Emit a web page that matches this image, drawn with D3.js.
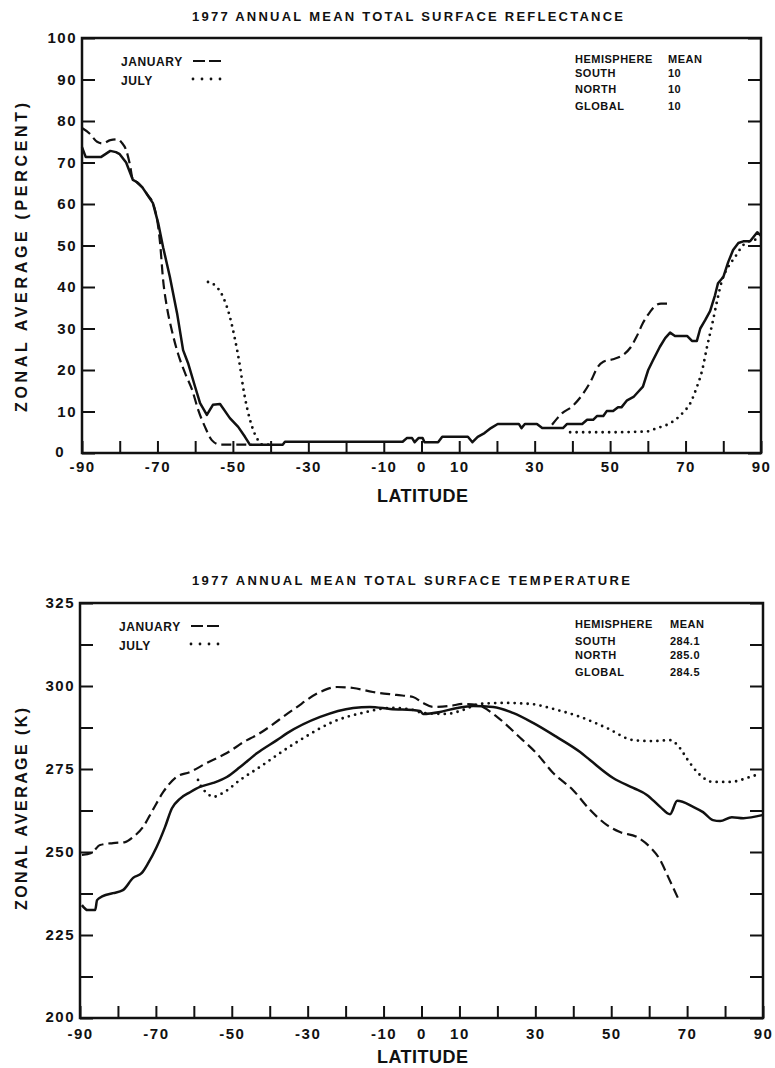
<!DOCTYPE html>
<meta charset="utf-8">
<script src="https://cdnjs.cloudflare.com/ajax/libs/d3/7.8.5/d3.min.js"></script>
<style>

body {
  margin: 0;
  background: #fff;
}

text {
  font-family: "Liberation Sans", Arial, sans-serif;
  font-weight: bold;
  fill: #111;
}

.frame {
  fill: none;
  stroke: #111;
  stroke-width: 2.5px;
}

.tick line {
  stroke: #111;
  stroke-width: 2px;
}

.annual {
  fill: none;
  stroke: #111;
  stroke-width: 2.5px;
  stroke-linejoin: round;
}

.jan {
  fill: none;
  stroke: #111;
  stroke-width: 2.2px;
  stroke-dasharray: 10,5;
}

.jul {
  fill: none;
  stroke: #111;
  stroke-width: 2.8px;
  stroke-dasharray: 0,6.5;
  stroke-linecap: round;
}

</style>
<body>
<script>

// ---- data (latitude, zonal average) ----

var latTicks = d3.range(-90, 91, 10),
    latLabels = [-90, -70, -50, -30, -10, 0, 10, 30, 50, 70, 90];

var reflTicks = d3.range(0, 101, 10),
    tempTicks = d3.range(200, 326, 12.5),
    tempLabels = [200, 225, 250, 275, 300, 325];

var hemispheres = ["SOUTH", "NORTH", "GLOBAL"],
    reflMeans = ["10", "10", "10"],
    tempMeans = ["284.1", "285.0", "284.5"];

// surface reflectance (percent)
var reflAnnual = [[-90,73.7],[-89,71.3],[-85,71.3],[-82.5,72.8],[-81,72.5],[-80,72],[-78.3,70],
  [-76.5,65.8],[-75.5,65.3],[-74,64],[-72.5,62],[-71.2,60.2],[-69.8,55.4],[-68.5,49.6],[-66.7,42.4],
  [-64.8,33.7],[-63.2,24.8],[-61.9,21.7],[-60,15.9],[-58.7,12],[-56.9,9.2],[-55.3,11.6],[-53.4,11.8],
  [-50.8,8.4],[-48.6,6.3],[-46.8,3.9],[-45.5,2],[-36.8,2],[-36.2,2.7],[-5,2.7],[-3.9,3.6],[-2.5,3.6],
  [-1.8,2.6],[-0.8,3.6],[0.3,3.6],[0.8,2.6],[4.4,2.6],[5.5,3.9],[12.3,3.9],[13.5,2.6],[14.9,3.9],
  [16.7,4.8],[18.4,6],[20.2,7],[25.8,7],[26.5,6],[27.4,7],[30.6,7],[32,6],[37.5,6],[38.6,7],[42.6,7],
  [43.9,8],[45.5,8],[46.5,8.9],[48.2,8.9],[49.1,10.1],[50.8,10.1],[52.1,11],[53,11],[54.5,12.7],
  [56.2,13.5],[57.4,14.7],[58.7,16],[60.1,20],[61.4,22.4],[63.2,25.6],[64.6,27.7],[65.9,29],
  [67.2,28.2],[70.4,28.2],[71.7,27],[73,27],[73.9,30],[75.2,32],[76.5,34.2],[77.8,38],[78.6,40.9],
  [80,42.4],[81.3,46],[82.6,48.9],[84,50.6],[85.3,51],[87.1,51],[89,53.2],[90,52.3]];

var reflJanSouth = [[-90,78.3],[-88,77],[-86,75],[-84.5,74.6],[-82.5,75.4],[-80.5,75.6],[-79.4,74.7],
  [-78.3,73],[-77.3,69.5],[-76.5,65.8],[-75.5,65.3],[-74,64],[-72.5,62],[-71.2,60.2],[-69.8,54.5],
  [-69.3,50.6],[-68.5,41.7],[-67.5,35.2],[-66.2,29.6],[-64.6,24.1],[-62.7,19.3],[-60.8,15.2],
  [-59.2,10.4],[-57.4,6.3],[-55.6,3.1],[-53.4,2],[-45,2]];

var reflJanNorth = [[34.6,6.8],[37.3,9.6],[39.9,11.2],[42.9,14.4],[45.1,17.7],[46.5,20.4],[48.2,22],
  [50.8,22.6],[53.4,23.6],[55.3,25.3],[57,28],[58.7,31.3],[60.6,34],[62.3,35.7],[63.5,36],[65.4,36]];

var reflJulSouth = [[-56.6,41.2],[-54.4,40.1],[-52.6,37.6],[-50.8,32.8],[-49.4,27.2],[-48.1,20.8],
  [-47.3,15.9],[-46.3,11.1],[-44.9,6.3],[-43.6,3.5],[-42,2],[-40,2]];

var reflJulNorth = [[39.4,5],[50,5],[59.8,5.2],[62.4,6],[65.1,6.8],[67.7,8.3],[69.4,9.8],[71.2,11.9],
  [73,15.9],[74.4,19.9],[75.7,25.6],[77.1,31.2],[78.4,36.8],[79.7,41.7],[81.3,44.8],[83.1,47.2],
  [85.3,50.1],[87.9,51.3],[89.7,51.5]];

// surface temperature (K)
var tempAnnual = [[-89.5,234],[-88,232.5],[-86,232.5],[-85.5,235.5],[-84,236.7],[-81.3,237.6],
  [-78.7,238.5],[-76,242.2],[-73.7,243.7],[-72,246.7],[-69.8,251.5],[-67.6,257.5],[-65.8,263.1],
  [-63.6,266.1],[-61,268],[-58.4,269.6],[-54.9,270.8],[-51.3,272.6],[-47.8,275.6],[-43.3,279.8],
  [-38.1,283.7],[-35.4,285.8],[-26.7,290.7],[-18,293.4],[-13.6,293.7],[-8.3,293.1],[-0.4,292.5],
  [0.4,291.6],[4.9,292.2],[9.4,293.4],[13.6,294],[18.9,293.7],[24.1,291.9],[29.4,288.9],[35.7,284.6],
  [41.8,280.1],[44.4,277.7],[50.5,272.3],[55.8,269.3],[59.4,267.2],[62.9,263.6],[65.5,261.4],
  [67.4,265.4],[71.6,263.6],[74.2,262],[76.8,259.6],[78.7,259.3],[81.8,260.5],[84.8,260.2],[89.8,261.1]];

var tempJan = [[-89.5,249.1],[-87,249.7],[-84.7,252.1],[-81.3,252.7],[-78.1,253],[-76,254.5],
  [-73.4,257.5],[-70.8,262.7],[-68.1,268],[-64.6,272.6],[-61,274.1],[-56.6,276.8],[-51.3,279.8],
  [-46,283.7],[-44.4,284.6],[-33.9,292.8],[-26.7,298.2],[-22.3,299.7],[-18,299.4],[-12.8,298.2],
  [-6.6,297.3],[-2.2,296.7],[0.4,294.9],[3.1,293.7],[7.5,294],[11,294.6],[14.6,294.3],[19.9,290.7],
  [26,284.4],[30.5,279.5],[34.7,273.8],[39.9,268.7],[44.4,262.7],[48.9,258.1],[52.3,256],[56.8,254.5],
  [60.2,251.5],[62.9,247.6],[65,242.5],[67.6,236.1]];

var tempJul = [[-58.9,271.7],[-58,269.6],[-56.6,267.8],[-54.9,266.6],[-52.3,267.8],[-47.8,271.7],
  [-42.6,275.6],[-37.3,279.8],[-32,283.7],[-23.3,289.2],[-14.4,292.2],[-8.3,293.4],[-3,293],
  [0.4,291.9],[6.7,291.6],[11,292.8],[15.4,294.6],[21.5,294.9],[28.6,294.6],[35.7,292.8],[41.8,290.7],
  [48.9,287.3],[55.8,283.7],[61,283.4],[65.5,283.7],[68.1,281.3],[70,278],[73.4,273.2],[76.8,271.1],
  [81.3,271.1],[86.6,272.6],[89,273.5]];

// ---- drawing ----

var width = 775,
    height = 1068;

var svg = d3.select("body").append("svg")
    .attr("width", width)
    .attr("height", height);

function panel(p) {
  var x = d3.scaleLinear().domain([-90, 90]).range([p.left, p.right]),
      y = d3.scaleLinear().domain(p.yDomain).range([p.bottom, p.top]);

  var g = svg.append("g");

  // inward ticks on left, right and bottom
  var xAxis = d3.axisBottom(x)
      .tickValues(latTicks)
      .tickSizeInner(-12).tickSizeOuter(0).tickPadding(p.xPad)
      .tickFormat(function(d) { return latLabels.indexOf(d) >= 0 ? String(d) : ""; });

  var yAxis = d3.axisLeft(y)
      .tickValues(p.yTicks)
      .tickSizeInner(-13).tickSizeOuter(0).tickPadding(5)
      .tickFormat(function(d) { return p.yLabels.indexOf(d) >= 0 ? String(d) : ""; });

  var yRight = d3.axisRight(y)
      .tickValues(p.yTicks)
      .tickSizeInner(-13).tickSizeOuter(0)
      .tickFormat("");

  var axes = [
    g.append("g").attr("transform", "translate(0," + p.bottom + ")").call(xAxis),
    g.append("g").attr("transform", "translate(" + p.left + ",0)").call(yAxis),
    g.append("g").attr("transform", "translate(" + p.right + ",0)").call(yRight)
  ];
  axes.forEach(function(a) {
    a.attr("font-size", 15).attr("font-family", null);
    a.select(".domain").remove();
    a.selectAll("text").style("letter-spacing", "1.5px");
  });

  // the bottom y label sits left of the corner, clear of the -90
  axes[1].selectAll(".tick text")
      .filter(function(d) { return d === p.yDomain[0]; })
      .attr("dx", p.cornerDx)
      .attr("dy", p.cornerDy);

  g.append("rect")
      .attr("class", "frame")
      .attr("x", p.left).attr("y", p.top)
      .attr("width", p.right - p.left).attr("height", p.bottom - p.top);

  var smooth = d3.line()
      .x(function(d) { return x(d[0]); })
      .y(function(d) { return y(d[1]); })
      .curve(d3.curveMonotoneX);
  var stepped = d3.line()
      .x(function(d) { return x(d[0]); })
      .y(function(d) { return y(d[1]); });

  p.series.forEach(function(s) {
    g.append("path")
        .datum(s.data)
        .attr("class", s.cls)
        .attr("d", s.stepped ? stepped : smooth);
  });

  // titles
  g.append("text")
      .attr("x", 192).attr("y", p.titleY)
      .attr("font-size", 13)
      .attr("textLength", p.titleLen).attr("lengthAdjust", "spacing")
      .text(p.title);

  g.append("text")
      .attr("x", 377).attr("y", p.latY)
      .attr("font-size", 18)
      .attr("textLength", 91).attr("lengthAdjust", "spacing")
      .text("LATITUDE");

  g.append("text")
      .attr("transform", "translate(27," + p.yTitleBottom + ") rotate(-90)")
      .attr("font-size", 16)
      .attr("textLength", p.yTitleLen).attr("lengthAdjust", "spacing")
      .text(p.yTitle);

  // month legend
  var lg = g.append("g").attr("transform", "translate(" + p.legX + "," + p.legY + ")");
  lg.append("text").attr("x", 0).attr("y", 0).attr("font-size", 12)
      .style("letter-spacing", "0.6px").text("JANUARY");
  lg.append("text").attr("x", 0).attr("y", 19).attr("font-size", 12)
      .style("letter-spacing", "0.6px").text("JULY");
  lg.append("line").attr("class", "jan")
      .attr("x1", 72).attr("x2", 100).attr("y1", -5).attr("y2", -5)
      .style("stroke-dasharray", "12,4");
  lg.append("line").attr("class", "jul")
      .attr("x1", 72).attr("x2", 101).attr("y1", 13).attr("y2", 13)
      .style("stroke-dasharray", "0,9");

  // hemisphere means
  var tg = g.append("g")
      .attr("transform", "translate(575," + p.tableY + ")")
      .attr("font-size", 11)
      .style("letter-spacing", "0.5px");
  tg.append("text").attr("x", 0).attr("y", 0).text("HEMISPHERE");
  tg.append("text").attr("x", p.meanX).attr("y", 0).text("MEAN");
  tg.selectAll(".hname")
      .data(hemispheres)
      .enter().append("text")
      .attr("x", 0)
      .attr("y", function(d, i) { return p.rowY[i]; })
      .text(function(d) { return d; });
  tg.selectAll(".hmean")
      .data(p.means)
      .enter().append("text")
      .attr("x", p.meanX)
      .attr("y", function(d, i) { return p.rowY[i]; })
      .text(function(d) { return d; });
}

panel({
  left: 82, right: 761, top: 38, bottom: 453,
  yDomain: [0, 100], yTicks: reflTicks, yLabels: reflTicks, xPad: 8,
  cornerDx: -12, cornerDy: "0.2em",
  title: "1977 ANNUAL MEAN TOTAL SURFACE REFLECTANCE", titleY: 21, titleLen: 431,
  latY: 502,
  yTitle: "ZONAL AVERAGE (PERCENT)", yTitleBottom: 412, yTitleLen: 309,
  legX: 121, legY: 66,
  tableY: 63, meanX: 93, rowY: [14, 30, 47], means: reflMeans,
  series: [
    {data: reflJanSouth, cls: "jan"},
    {data: reflJanNorth, cls: "jan"},
    {data: reflJulSouth, cls: "jul"},
    {data: reflJulNorth, cls: "jul"},
    {data: reflAnnual, cls: "annual", stepped: true}
  ]
});

panel({
  left: 80, right: 763, top: 603, bottom: 1018,
  yDomain: [200, 325], yTicks: tempTicks, yLabels: tempLabels, xPad: 10,
  cornerDx: 0, cornerDy: "0.2em",
  title: "1977 ANNUAL MEAN TOTAL SURFACE TEMPERATURE", titleY: 585, titleLen: 438,
  latY: 1063,
  yTitle: "ZONAL AVERAGE (K)", yTitleBottom: 910, yTitleLen: 202,
  legX: 119, legY: 631,
  tableY: 628, meanX: 95, rowY: [17, 31, 48], means: tempMeans,
  series: [
    {data: tempJan, cls: "jan"},
    {data: tempJul, cls: "jul"},
    {data: tempAnnual, cls: "annual"}
  ]
});

</script>
